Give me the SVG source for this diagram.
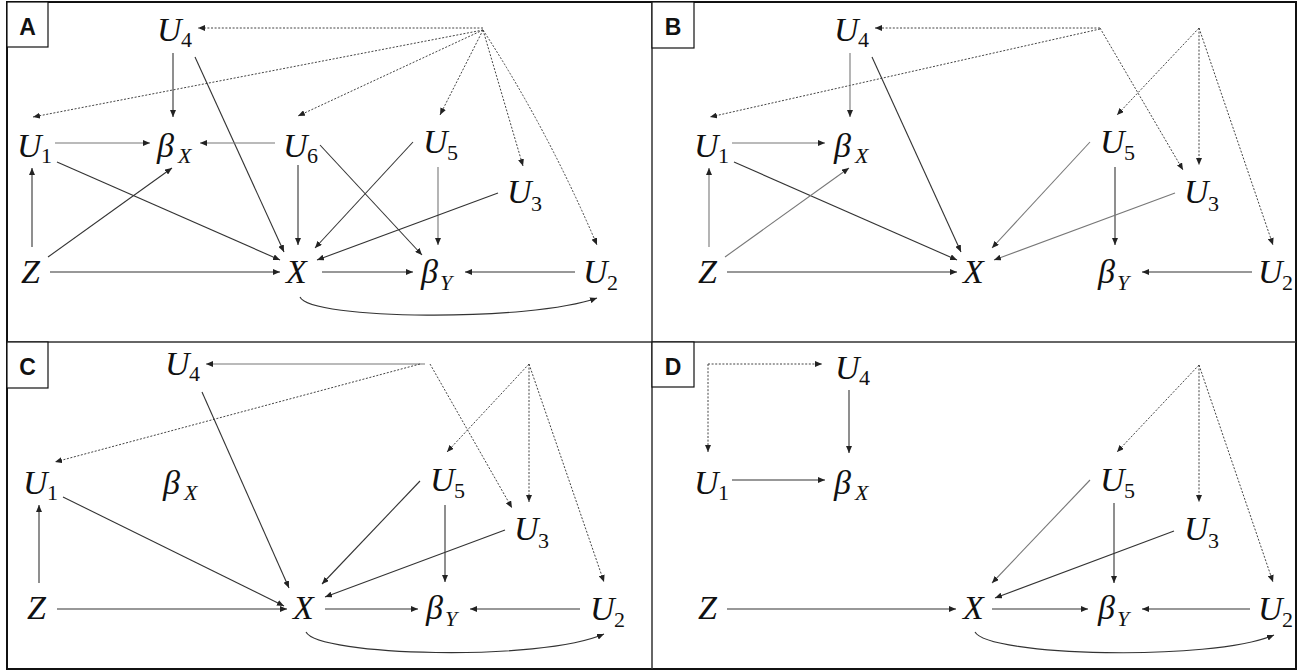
<svg xmlns="http://www.w3.org/2000/svg" width="1299" height="671" viewBox="0 0 1299 671">
<style>
.n{font-family:"Liberation Serif","DejaVu Serif",serif;font-style:italic;font-size:34px;fill:#111}
.s{font-size:22px;font-style:normal}
.si{font-size:22px;font-style:italic}
.e{fill:none;stroke:#333;stroke-width:1.1;marker-end:url(#ah)}
.l{fill:none;stroke:#777;stroke-width:1.1;marker-end:url(#ah)}
.d{fill:none;stroke:#444;stroke-width:1;stroke-dasharray:2 1.6;marker-end:url(#ah)}
.c{fill:none;stroke:#333;stroke-width:1.1;marker-end:url(#ah)}
.lb{font-family:"Liberation Sans","Open Sans",sans-serif;font-weight:bold;font-size:23px;fill:#111;text-anchor:middle}
.box{fill:#fff;stroke:#111;stroke-width:1.2}
</style>
<defs>
<marker id="ah" markerWidth="8" markerHeight="6" refX="7" refY="3" orient="auto" markerUnits="userSpaceOnUse">
<path d="M0,0 L7,3 L0,6 z" fill="#222"/>
</marker>
</defs>
<rect x="0" y="0" width="1299" height="671" fill="#fff"/>
<rect x="7" y="2" width="1289" height="667" fill="none" stroke="#111" stroke-width="2"/>
<line x1="652" y1="2" x2="652" y2="669" stroke="#333" stroke-width="1.5"/>
<line x1="7" y1="342" x2="1296" y2="342" stroke="#333" stroke-width="1.5"/>

<!-- connectors -->
<g id="connectors">
<!-- Panel A -->
<path class="d" d="M483,28 L198,28"/>
<path class="d" d="M483,30 L33,117"/>
<path class="d" d="M483,30 L298,116"/>
<path class="d" d="M483,30 L440,115"/>
<path class="d" d="M483,30 L523,166"/>
<path class="d" d="M483,30 Q548,130 597,245"/>
<path class="e" d="M173,53 L173,117"/>
<path class="e" d="M195,57 L284,252"/>
<path class="l" d="M55,143 L150,143"/>
<path class="l" d="M275,143 L200,143"/>
<path class="e" d="M57,162 L280,260"/>
<path class="e" d="M32,247 L32,168"/>
<path class="e" d="M48,257 L172,168"/>
<path class="e" d="M50,272 L280,272"/>
<path class="e" d="M298,165 L298,245"/>
<path class="e" d="M320,145 L422,255"/>
<path class="e" d="M413,142 L315,248"/>
<path class="l" d="M438,167 L438,245"/>
<path class="e" d="M498,193 L317,260"/>
<path class="e" d="M322,272 L413,272"/>
<path class="e" d="M575,272 L465,272"/>
<path class="c" d="M300,297 C310,320 530,322 597,298"/>
<!-- Panel B -->
<path class="d" d="M1100,28 L875,28"/>
<path class="d" d="M1100,29 L710,117"/>
<path class="d" d="M1100,28 L1183,170"/>
<path class="d" d="M1199,28 L1117,115"/>
<path class="d" d="M1199,28 L1199,165"/>
<path class="d" d="M1199,28 L1273,245"/>
<path class="l" d="M850,53 L850,117"/>
<path class="e" d="M872,57 L961,252"/>
<path class="l" d="M732,143 L825,143"/>
<path class="e" d="M734,162 L957,260"/>
<path class="l" d="M709,247 L709,168"/>
<path class="l" d="M725,257 L849,168"/>
<path class="e" d="M727,272 L957,272"/>
<path class="l" d="M1090,142 L992,248"/>
<path class="e" d="M1115,167 L1115,245"/>
<path class="l" d="M1175,193 L994,260"/>
<path class="e" d="M1252,272 L1142,272"/>
<!-- Panel C -->
<path class="l" d="M425,364 L206,364"/>
<path class="d" d="M420,364 L55,462"/>
<path class="d" d="M430,364 L512,508"/>
<path class="d" d="M529,364 L447,452"/>
<path class="d" d="M529,364 L529,502"/>
<path class="d" d="M529,364 L604,582"/>
<path class="e" d="M202,392 L289,588"/>
<path class="e" d="M63,497 L284,606"/>
<path class="e" d="M39,583 L39,505"/>
<path class="e" d="M57,609 L287,609"/>
<path class="e" d="M420,481 L322,584"/>
<path class="e" d="M445,505 L445,582"/>
<path class="e" d="M505,530 L325,597"/>
<path class="e" d="M325,609 L418,609"/>
<path class="e" d="M580,609 L470,609"/>
<path class="c" d="M306,632 C318,656 540,662 604,634"/>
<!-- Panel D -->
<path class="d" d="M708,364 L822,364"/>
<path class="d" d="M708,364 L708,452"/>
<path class="e" d="M849,390 L849,453"/>
<path class="e" d="M732,480 L825,480"/>
<path class="e" d="M727,609 L956,609"/>
<path class="d" d="M1199,365 L1117,452"/>
<path class="d" d="M1199,365 L1199,502"/>
<path class="d" d="M1199,365 L1273,582"/>
<path class="l" d="M1090,480 L992,583"/>
<path class="e" d="M1114,503 L1114,583"/>
<path class="e" d="M1174,531 L995,598"/>
<path class="e" d="M992,609 L1088,609"/>
<path class="e" d="M1250,609 L1142,609"/>
<path class="c" d="M975,632 C988,656 1210,662 1274,635"/>
</g>

<!-- Panel labels -->
<g id="labelA"><rect class="box" x="7" y="2" width="41" height="45"/><text class="lb" x="27.5" y="35">A</text></g>
<g id="labelB"><rect class="box" x="652" y="2" width="42" height="46"/><text class="lb" x="673" y="35">B</text></g>
<g id="labelC"><rect class="box" x="7" y="342" width="41" height="46"/><text class="lb" x="27.5" y="375">C</text></g>
<g id="labelD"><rect class="box" x="652" y="342" width="42" height="45"/><text class="lb" x="673" y="375">D</text></g>

<!-- Panel A nodes -->
<g id="A-U4"><text class="n" x="157" y="41">U<tspan class="s" x="181" y="47">4</tspan></text></g>
<g id="A-U1"><text class="n" x="17" y="157">U<tspan class="s" x="41" y="163">1</tspan></text></g>
<g id="A-bX"><text class="n" x="157" y="157">β<tspan class="si" x="178" y="163">X</tspan></text></g>
<g id="A-U6"><text class="n" x="283" y="157">U<tspan class="s" x="307" y="163">6</tspan></text></g>
<g id="A-U5"><text class="n" x="423" y="153">U<tspan class="s" x="447" y="160">5</tspan></text></g>
<g id="A-U3"><text class="n" x="507" y="203">U<tspan class="s" x="531" y="211">3</tspan></text></g>
<g id="A-Z"><text class="n" x="21" y="283">Z</text></g>
<g id="A-X"><text class="n" x="286" y="283">X</text></g>
<g id="A-bY"><text class="n" x="421" y="283">β<tspan class="si" x="440" y="290">Y</tspan></text></g>
<g id="A-U2"><text class="n" x="583" y="283">U<tspan class="s" x="607" y="290">2</tspan></text></g>

<!-- Panel B nodes -->
<g id="B-U4"><text class="n" x="834" y="41">U<tspan class="s" x="858" y="47">4</tspan></text></g>
<g id="B-U1"><text class="n" x="694" y="157">U<tspan class="s" x="718" y="163">1</tspan></text></g>
<g id="B-bX"><text class="n" x="834" y="157">β<tspan class="si" x="855" y="163">X</tspan></text></g>
<g id="B-U5"><text class="n" x="1100" y="153">U<tspan class="s" x="1124" y="160">5</tspan></text></g>
<g id="B-U3"><text class="n" x="1184" y="203">U<tspan class="s" x="1208" y="211">3</tspan></text></g>
<g id="B-Z"><text class="n" x="698" y="283">Z</text></g>
<g id="B-X"><text class="n" x="963" y="283">X</text></g>
<g id="B-bY"><text class="n" x="1098" y="283">β<tspan class="si" x="1117" y="290">Y</tspan></text></g>
<g id="B-U2"><text class="n" x="1258" y="283">U<tspan class="s" x="1282" y="290">2</tspan></text></g>

<!-- Panel C nodes -->
<g id="C-U4"><text class="n" x="165" y="375">U<tspan class="s" x="189" y="381">4</tspan></text></g>
<g id="C-U1"><text class="n" x="23" y="494">U<tspan class="s" x="47" y="500">1</tspan></text></g>
<g id="C-bX"><text class="n" x="163" y="494">β<tspan class="si" x="184" y="500">X</tspan></text></g>
<g id="C-U5"><text class="n" x="430" y="491">U<tspan class="s" x="454" y="498">5</tspan></text></g>
<g id="C-U3"><text class="n" x="514" y="540">U<tspan class="s" x="538" y="548">3</tspan></text></g>
<g id="C-Z"><text class="n" x="27" y="619">Z</text></g>
<g id="C-X"><text class="n" x="293" y="619">X</text></g>
<g id="C-bY"><text class="n" x="426" y="619">β<tspan class="si" x="445" y="626">Y</tspan></text></g>
<g id="C-U2"><text class="n" x="590" y="620">U<tspan class="s" x="614" y="627">2</tspan></text></g>

<!-- Panel D nodes -->
<g id="D-U4"><text class="n" x="835" y="379">U<tspan class="s" x="859" y="385">4</tspan></text></g>
<g id="D-U1"><text class="n" x="694" y="494">U<tspan class="s" x="718" y="500">1</tspan></text></g>
<g id="D-bX"><text class="n" x="834" y="494">β<tspan class="si" x="855" y="500">X</tspan></text></g>
<g id="D-U5"><text class="n" x="1100" y="491">U<tspan class="s" x="1124" y="498">5</tspan></text></g>
<g id="D-U3"><text class="n" x="1184" y="540">U<tspan class="s" x="1208" y="548">3</tspan></text></g>
<g id="D-Z"><text class="n" x="698" y="619">Z</text></g>
<g id="D-X"><text class="n" x="963" y="619">X</text></g>
<g id="D-bY"><text class="n" x="1098" y="619">β<tspan class="si" x="1117" y="626">Y</tspan></text></g>
<g id="D-U2"><text class="n" x="1258" y="620">U<tspan class="s" x="1282" y="627">2</tspan></text></g>
</svg>
